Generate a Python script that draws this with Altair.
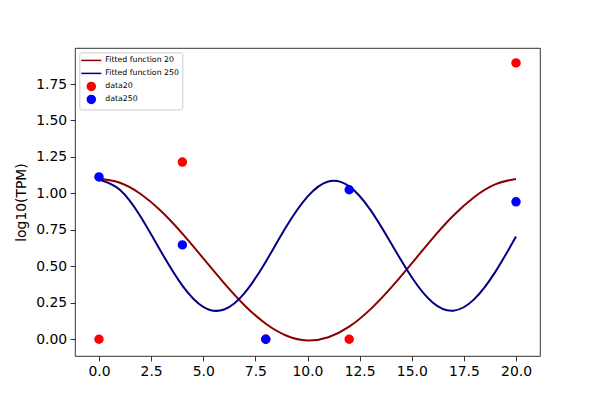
import altair as alt
import pandas as pd

# fitted curves (at integer x)
fit_x = list(range(21))
fit20 = [1.100, 1.073, 0.996, 0.876, 0.724, 0.555, 0.385, 0.230, 0.106, 0.024, -0.008,
         0.014, 0.086, 0.203, 0.352, 0.520, 0.692, 0.848, 0.975, 1.062, 1.099]
fit250 = [1.095, 1.025, 0.840, 0.595, 0.368, 0.222, 0.204, 0.320, 0.532, 0.776, 0.978,
          1.082, 1.048, 0.890, 0.660, 0.425, 0.252, 0.196, 0.275, 0.460, 0.704]

# measured points
data_x = [0, 4, 8, 12, 20]
data20 = [0.0, 1.215, 0.0, 0.0, 1.895]
data250 = [1.113, 0.647, 0.0, 1.025, 0.942]

names = ["Fitted function 20", "Fitted function 250", "data20", "data250"]
colors = ["#8b0000", "#000080", "#ff0000", "#0000ff"]
shapes = ["M-2.5,0H2.5", "M-2.5,0H2.5", "circle", "circle"]

x_ticks = [0, 2.5, 5, 7.5, 10, 12.5, 15, 17.5, 20]
y_ticks = [0, 0.25, 0.5, 0.75, 1.0, 1.25, 1.5, 1.75]

lines_df = pd.DataFrame({
    "x": fit_x + fit_x,
    "y": fit20 + fit250,
    "series": [names[0]] * len(fit_x) + [names[1]] * len(fit_x),
})
pts_df = pd.DataFrame({
    "x": data_x + data_x,
    "y": data20 + data250,
    "series": [names[2]] * len(data_x) + [names[3]] * len(data_x),
})

xscale = alt.Scale(domain=[-1.15, 21.15], nice=False, zero=False)
yscale = alt.Scale(domain=[-0.115, 1.997], nice=False, zero=False)

legend = alt.Legend(
    title=None, orient="none", legendX=4.3, legendY=4.4,
    fillColor="white", strokeColor="#cccccc", cornerRadius=2, padding=3,
    labelFont="DejaVu Sans", labelFontSize=7.8, labelColor="black",
    labelOffset=9, symbolOffset=4, rowPadding=-1, symbolOpacity=1,
    symbolSize=64, gridAlign="all",
)

xaxis = alt.Axis(values=x_ticks, format=".1f", title=None, grid=False)
yaxis = alt.Axis(values=y_ticks, format=".2f", title="log10(TPM)", grid=False)

stroke_enc = alt.Stroke("series:N", scale=alt.Scale(domain=names, range=colors), legend=legend)

lines = alt.Chart(lines_df).mark_line(strokeWidth=2, interpolate="natural").encode(
    x=alt.X("x:Q", scale=xscale, axis=xaxis),
    y=alt.Y("y:Q", scale=yscale, axis=yaxis),
    stroke=stroke_enc,
)

points = alt.Chart(pts_df).mark_point(filled=True, size=56, strokeWidth=2, opacity=1).encode(
    x=alt.X("x:Q", scale=xscale, axis=xaxis),
    y=alt.Y("y:Q", scale=yscale, axis=yaxis),
    fill=alt.Fill("series:N", scale=alt.Scale(domain=names, range=colors), legend=legend),
    stroke=stroke_enc,
    shape=alt.Shape("series:N", scale=alt.Scale(domain=names, range=shapes), legend=legend),
)

chart = alt.layer(lines, points).properties(
    width=465, height=308,
    autosize=alt.AutoSizeParams(type="none"),
    padding={"left": 67, "top": 40, "right": 52, "bottom": 36},
).configure_view(
    stroke="black", strokeWidth=0.8,
).configure_axis(
    labelFont="DejaVu Sans", labelFontSize=13.9, labelColor="black",
    tickColor="black", tickSize=4.9, tickWidth=0.8, domain=False, labelPadding=3.5,
    titleFont="DejaVu Sans", titleFontSize=13.9, titleFontWeight="normal",
    titleColor="black", titlePadding=7,
)

chart.save("out.html", embed_options={"renderer": "svg", "actions": False})
